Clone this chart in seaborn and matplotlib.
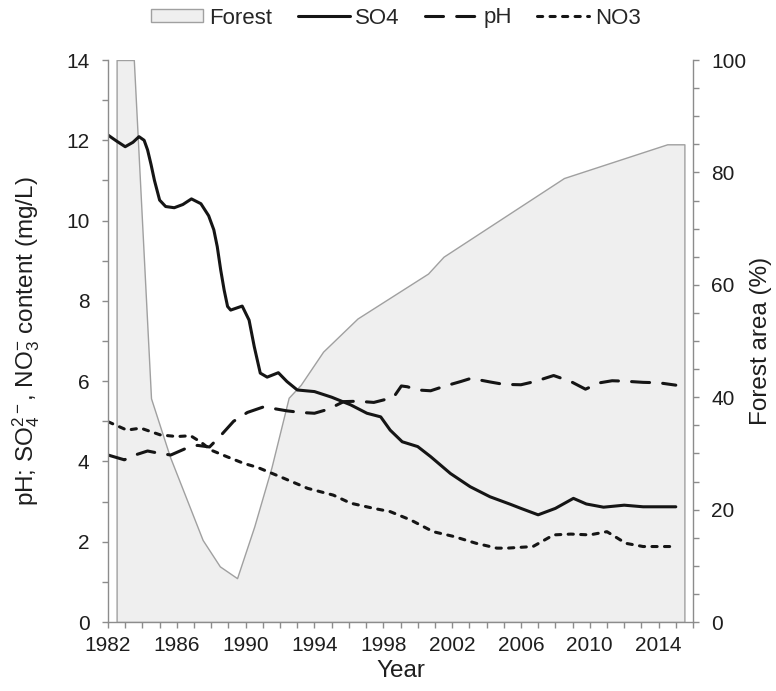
import matplotlib
matplotlib.use("Agg")
import matplotlib.pyplot as plt
from matplotlib.patches import Patch
from matplotlib.lines import Line2D
from matplotlib.ticker import MultipleLocator, FixedLocator
import seaborn as sns

# Forest area (% of catchment)
forest_year = [1982.5, 1983.5, 1984.5, 1985.6, 1987.5, 1988.5, 1989.5, 1990.5,
               1991.5, 1992.5, 1993.2, 1994.5, 1996.5, 2000.6, 2001.5, 2008.5,
               2014.5, 2015.5]
forest_pct = [100.0, 100.0, 39.8, 29.4, 14.6, 9.9, 7.8, 17.0,
              27.5, 39.9, 42.2, 48.1, 54.0, 62.0, 65.0, 79.0,
              85.0, 85.0]

# Sulphate (mg/L)
so4_year = [1982.0, 1982.5, 1983.0, 1983.45, 1983.8, 1984.1, 1984.3, 1984.5,
            1984.7, 1985.0, 1985.35, 1985.85, 1986.35, 1986.85, 1987.4, 1987.85,
            1988.15, 1988.35, 1988.55, 1988.75, 1988.95, 1989.13, 1989.8, 1990.2,
            1990.5, 1990.85, 1991.25, 1991.9, 1992.4, 1993.0, 1994.0, 1995.0,
            1996.1, 1997.05, 1997.85, 1998.4, 1999.1, 2000.0, 2000.75, 2001.9,
            2003.05, 2004.2, 2005.4, 2006.0, 2007.0, 2008.0, 2009.05, 2009.8,
            2010.8, 2012.0, 2013.1, 2015.0]
so4_val = [12.13, 11.98, 11.84, 11.95, 12.09, 12.0, 11.76, 11.4,
           11.0, 10.51, 10.35, 10.32, 10.4, 10.54, 10.42, 10.12,
           9.77, 9.35, 8.77, 8.27, 7.86, 7.77, 7.87, 7.52,
           6.86, 6.2, 6.1, 6.21, 5.99, 5.78, 5.74, 5.6,
           5.41, 5.2, 5.11, 4.78, 4.49, 4.37, 4.12, 3.7,
           3.37, 3.12, 2.93, 2.83, 2.67, 2.83, 3.08, 2.94,
           2.86, 2.91, 2.87, 2.87]

# pH
ph_year = [1982.0, 1982.95, 1983.5, 1984.3, 1985.0, 1985.65, 1986.45, 1987.2,
           1987.9, 1988.5, 1989.3, 1990.1, 1991.05, 1992.4, 1993.2, 1994.0,
           1994.8, 1995.7, 1996.5, 1997.45, 1998.0, 1998.6, 1999.05, 1999.4,
           2000.0, 2000.75, 2001.6, 2002.5, 2003.1, 2004.2, 2005.0, 2006.0,
           2006.8, 2007.9, 2008.9, 2009.75, 2010.6, 2011.3, 2012.0, 2013.1,
           2014.0, 2015.0]
ph_val = [4.16, 4.04, 4.15, 4.26, 4.2, 4.16, 4.31, 4.4,
          4.36, 4.62, 5.0, 5.22, 5.36, 5.26, 5.22, 5.2,
          5.3, 5.49, 5.5, 5.47, 5.53, 5.6, 5.88, 5.86,
          5.78, 5.76, 5.88, 5.99, 6.07, 5.98, 5.92, 5.91,
          5.99, 6.14, 5.99, 5.8, 5.96, 6.01, 6.0, 5.97,
          5.96, 5.9]

# Nitrate (mg/L)
no3_year = [1982.0, 1983.1, 1983.9, 1985.05, 1986.0, 1986.8, 1987.4, 1988.0,
            1988.9, 1989.9, 1990.7, 1992.0, 1993.6, 1995.1, 1996.1, 1997.45,
            1998.4, 1999.6, 2000.9, 2002.1, 2003.4, 2004.6, 2005.2, 2006.7,
            2007.9, 2008.9, 2010.0, 2011.0, 2012.1, 2013.1, 2015.0]
no3_val = [4.99, 4.78, 4.83, 4.66, 4.62, 4.64, 4.48, 4.28,
           4.12, 3.95, 3.85, 3.62, 3.33, 3.16, 2.96, 2.83,
           2.75, 2.54, 2.25, 2.13, 1.96, 1.84, 1.84, 1.88,
           2.17, 2.19, 2.17, 2.25, 1.96, 1.88, 1.88]

year_labels = list(range(1982, 2015, 4))

sns.set_theme(style="ticks")
plt.rcParams["font.family"] = ["Liberation Sans", "DejaVu Sans"]
plt.rcParams["mathtext.fontset"] = "custom"
plt.rcParams["mathtext.rm"] = "Liberation Sans"
plt.rcParams["mathtext.it"] = "Liberation Sans:italic"
plt.rcParams["mathtext.bf"] = "Liberation Sans:bold"

W, H = 776, 691
fig = plt.figure(figsize=(W / 100, H / 100), dpi=100)
L, R, T, B = 108, 693, 60, 622
ax = fig.add_axes([L / W, 1 - B / H, (R - L) / W, (B - T) / H])
ax2 = ax.twinx()
ax.set_zorder(ax2.get_zorder() + 1)
ax.patch.set_visible(False)

line_col = "#151515"
grey = "#8c8c8c"
text_col = "#1e1e1e"
lw = 2.2
ph_dash = (0, (5.9, 4.3))
no3_dash = (0, (1.7, 2.4))

# forest area as a shaded area on the right axis
ax2.fill_between(forest_year, 0, forest_pct, facecolor="#efefef",
                 edgecolor="#a0a0a0", linewidth=1.0)

sns.lineplot(x=so4_year, y=so4_val, ax=ax, color=line_col, linewidth=lw,
             estimator=None, solid_capstyle="round", solid_joinstyle="round")
sns.lineplot(x=ph_year, y=ph_val, ax=ax, color=line_col, linewidth=lw,
             estimator=None, linestyle=ph_dash, dash_capstyle="round",
             dash_joinstyle="round")
sns.lineplot(x=no3_year, y=no3_val, ax=ax, color=line_col, linewidth=lw,
             estimator=None, linestyle=no3_dash, dash_capstyle="round",
             dash_joinstyle="round")

ax.set_xlim(1982, 2016)
ax.set_ylim(0, 14)
ax2.set_ylim(0, 100)

ax.xaxis.set_major_locator(FixedLocator(year_labels))
ax.xaxis.set_minor_locator(MultipleLocator(1))
ax.yaxis.set_major_locator(MultipleLocator(2))
ax.yaxis.set_minor_locator(MultipleLocator(1))
ax2.yaxis.set_major_locator(MultipleLocator(20))
ax2.yaxis.set_minor_locator(MultipleLocator(5))

for a in (ax, ax2):
    a.tick_params(which="both", direction="out", length=4.3, width=1.0,
                  color=grey, labelsize=15, labelcolor=text_col)
    for s in a.spines.values():
        s.set_color(grey)
        s.set_linewidth(1.0)
    a.spines["top"].set_visible(False)
ax.tick_params(axis="y", which="both", pad=9)
ax.tick_params(axis="x", which="both", pad=6)
ax2.tick_params(axis="y", which="both", pad=9)
ax.spines["right"].set_visible(False)
ax2.spines["left"].set_visible(False)
ax2.spines["bottom"].set_visible(False)

ax.set_xlabel("Year", fontsize=17.5, color=text_col)
ax.set_ylabel(r"pH; SO$_4^{2-}$, NO$_3^{-}$ content (mg/L)", fontsize=17.5,
              color=text_col)
ax2.set_ylabel("Forest area (%)", fontsize=17.5, color=text_col)
ax.xaxis.set_label_coords(0.5, (B - 660) / (B - T))
ax.yaxis.set_label_coords((42 - L) / (R - L), 0.5)
ax2.yaxis.set_label_coords((750 - L) / (R - L), 0.5)
ax2.grid(False)
ax.grid(False)

handles = [
    Patch(facecolor="#efefef", edgecolor="#a0a0a0", linewidth=1.0, label="Forest"),
    Line2D([], [], color=line_col, linewidth=lw, label="SO4"),
    Line2D([], [], color=line_col, linewidth=lw, linestyle=ph_dash,
           dash_capstyle="round", label="pH"),
    Line2D([], [], color=line_col, linewidth=lw, linestyle=no3_dash,
           dash_capstyle="round", label="NO3"),
]
fig.legend(handles=handles, loc="center", bbox_to_anchor=(396 / W, 1 - 18 / H),
           ncol=4, frameon=False, fontsize=16, handlelength=2.35,
           handleheight=0.5, handletextpad=0.25, columnspacing=1.15,
           borderpad=0.2)

fig.savefig("out.png", dpi=100)
